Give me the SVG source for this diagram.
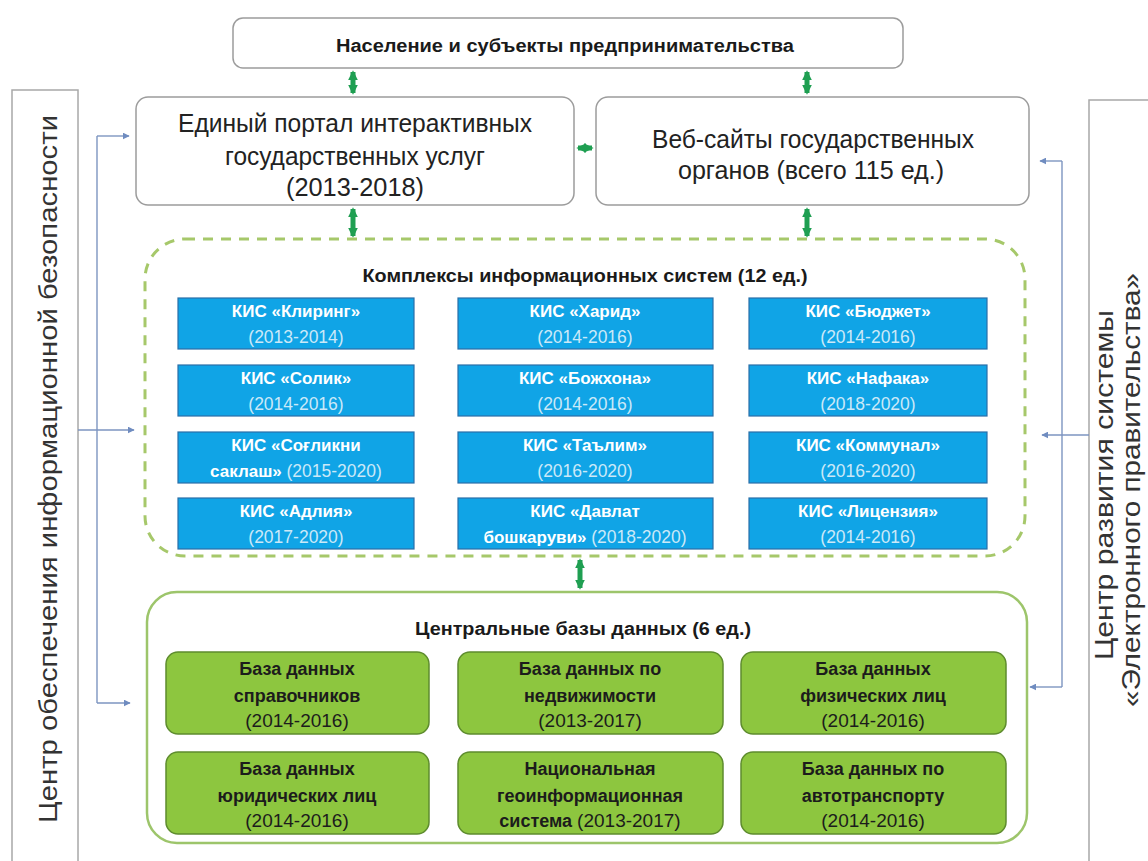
<svg xmlns="http://www.w3.org/2000/svg" width="1148" height="861" viewBox="0 0 1148 861">
<defs>
<style>
.box{fill:#fff;stroke:#9c9c9c;stroke-width:1.5}
.side{fill:#fff;stroke:#a8a8a8;stroke-width:1.5}
.kis{fill:#10A4E6;stroke:#2A6FA8;stroke-width:1.2}
.db{fill:#8DC63F;stroke:#5E8C2E;stroke-width:1.5}
.t{font-family:"Liberation Sans",Arial,sans-serif;text-anchor:middle}
.big{font-size:26px;fill:#222}
.hdr{font-size:18px;font-weight:bold;fill:#1a1a1a}
.kw{font-size:17px;font-weight:bold;fill:#ffffff}
.ky{font-size:17.5px;fill:#CBE9F8;font-weight:normal}
.dw{font-size:18px;font-weight:bold;fill:#1c1c1c}
.dy{font-size:19px;fill:#1c1c1c;font-weight:normal}
.sidet{font-size:25px;fill:#333}
.g{stroke:#1F9F52;stroke-width:5;fill:none;marker-start:url(#gh);marker-end:url(#gh)}
.b{stroke:#7D95C0;stroke-width:1.4;fill:none}
.ba{marker-end:url(#bh)}
</style>
<marker id="gh" viewBox="0 0 6 6" refX="5" refY="3" markerWidth="2" markerHeight="2" orient="auto-start-reverse" markerUnits="strokeWidth">
<path d="M0,0 L6,3 L0,6 z" fill="#1F9F52"/>
</marker>
<marker id="bh" viewBox="0 0 10 10" refX="9" refY="5" markerWidth="7" markerHeight="7" orient="auto" markerUnits="userSpaceOnUse">
<path d="M0,0 L10,5 L0,10 z" fill="#6F8CC0"/>
</marker>
</defs>
<rect width="1148" height="861" fill="#ffffff"/>

<g id="left-center">
<rect class="side" x="12" y="90" width="66" height="790"/>
<text class="t sidet" transform="translate(57,469) rotate(-90)" textLength="708" lengthAdjust="spacingAndGlyphs">Центр  обеспечения  информационной  безопасности</text>
</g>

<g id="right-center">
<rect class="side" x="1089" y="100" width="90" height="790"/>
<text class="t sidet" transform="translate(1113,485) rotate(-90)" textLength="350" lengthAdjust="spacingAndGlyphs">Центр  развития  системы</text>
<text class="t sidet" transform="translate(1140,490) rotate(-90)" textLength="434" lengthAdjust="spacingAndGlyphs">«Электронного  правительства»</text>
</g>

<g id="connectors">
<path class="b" d="M97,136 V703"/>
<path class="b ba" d="M97,136 H129"/>
<path class="b ba" d="M78,430 H134"/>
<path class="b ba" d="M97,703 H130"/>
<path class="b" d="M1062,161 V687"/>
<path class="b ba" d="M1062,161 H1040"/>
<path class="b ba" d="M1089,435 H1042"/>
<path class="b ba" d="M1062,687 H1030"/>
<line class="g" x1="353" y1="72" x2="353" y2="93"/>
<line class="g" x1="807" y1="72" x2="807" y2="93"/>
<line class="g" x1="353" y1="209" x2="353" y2="236"/>
<line class="g" x1="807" y1="209" x2="807" y2="236"/>
<line class="g" x1="578" y1="148" x2="592" y2="148"/>
<line class="g" x1="580" y1="560" x2="580" y2="588"/>
</g>

<g id="population">
<rect class="box" x="233" y="18" width="670" height="50" rx="10"/>
<text class="t hdr" x="565" y="52" textLength="458" lengthAdjust="spacingAndGlyphs">Население и субъекты предпринимательства</text>
</g>

<g id="portal">
<rect class="box" x="136" y="97" width="438" height="108" rx="12"/>
<text class="t big" x="355" y="132" textLength="354" lengthAdjust="spacingAndGlyphs">Единый  портал  интерактивных</text>
<text class="t big" x="355" y="165" textLength="260" lengthAdjust="spacingAndGlyphs">государственных  услуг</text>
<text class="t big" x="355" y="196" textLength="138" lengthAdjust="spacingAndGlyphs">(2013-2018)</text>
</g>

<g id="websites">
<rect class="box" x="596" y="97" width="433" height="108" rx="12"/>
<text class="t big" x="813" y="148" textLength="322" lengthAdjust="spacingAndGlyphs">Веб-сайты  государственных</text>
<text class="t big" x="811" y="179" textLength="266" lengthAdjust="spacingAndGlyphs">органов  (всего 115 ед.)</text>
</g>

<g id="kis-complex">
<rect x="145" y="239" width="880" height="317" rx="40" fill="#fff" stroke="#A6C86A" stroke-width="3" stroke-dasharray="10 8"/>
<text class="t hdr" x="585" y="282" textLength="445" lengthAdjust="spacingAndGlyphs">Комплексы информационных систем (12 ед.)</text>
</g>

<g id="kis-clearing"><rect class="kis" x="178" y="298" width="236" height="51"/>
<text class="t kw" x="296" y="317">КИС «Клиринг»</text><text class="t ky" x="296" y="343">(2013-2014)</text></g>
<g id="kis-harid"><rect class="kis" x="458" y="298" width="255" height="51"/>
<text class="t kw" x="585" y="317">КИС «Харид»</text><text class="t ky" x="585" y="343">(2014-2016)</text></g>
<g id="kis-budget"><rect class="kis" x="749" y="298" width="238" height="51"/>
<text class="t kw" x="868" y="317">КИС «Бюджет»</text><text class="t ky" x="868" y="343">(2014-2016)</text></g>

<g id="kis-solik"><rect class="kis" x="178" y="365" width="236" height="51"/>
<text class="t kw" x="296" y="384">КИС «Солик»</text><text class="t ky" x="296" y="410">(2014-2016)</text></g>
<g id="kis-bozhkhona"><rect class="kis" x="458" y="365" width="255" height="51"/>
<text class="t kw" x="585" y="384">КИС «Божхона»</text><text class="t ky" x="585" y="410">(2014-2016)</text></g>
<g id="kis-nafaka"><rect class="kis" x="749" y="365" width="238" height="51"/>
<text class="t kw" x="868" y="384">КИС «Нафака»</text><text class="t ky" x="868" y="410">(2018-2020)</text></g>

<g id="kis-health"><rect class="kis" x="178" y="432" width="236" height="51"/>
<text class="t kw" x="296" y="451">КИС «Соғликни</text><text class="t kw" x="296" y="477">саклаш» <tspan class="ky">(2015-2020)</tspan></text></g>
<g id="kis-talim"><rect class="kis" x="458" y="432" width="255" height="51"/>
<text class="t kw" x="585" y="451">КИС «Таълим»</text><text class="t ky" x="585" y="477">(2016-2020)</text></g>
<g id="kis-kommunal"><rect class="kis" x="749" y="432" width="238" height="51"/>
<text class="t kw" x="868" y="451">КИС «Коммунал»</text><text class="t ky" x="868" y="477">(2016-2020)</text></g>

<g id="kis-adliya"><rect class="kis" x="178" y="498" width="236" height="51"/>
<text class="t kw" x="296" y="517">КИС «Адлия»</text><text class="t ky" x="296" y="543">(2017-2020)</text></g>
<g id="kis-davlat"><rect class="kis" x="458" y="498" width="255" height="51"/>
<text class="t kw" x="585" y="517">КИС «Давлат</text><text class="t kw" x="585" y="543">бошкаруви» <tspan class="ky">(2018-2020)</tspan></text></g>
<g id="kis-license"><rect class="kis" x="749" y="498" width="238" height="51"/>
<text class="t kw" x="868" y="517">КИС «Лицензия»</text><text class="t ky" x="868" y="543">(2014-2016)</text></g>

<g id="central-db">
<rect x="147" y="592" width="880" height="251" rx="30" fill="#fff" stroke="#9DC56B" stroke-width="2.5"/>
<text class="t hdr" x="583" y="635" textLength="336" lengthAdjust="spacingAndGlyphs">Центральные базы данных (6 ед.)</text>
</g>

<g id="db-reference"><rect class="db" x="166" y="652" width="263" height="82" rx="12"/>
<text class="t dw" x="297" y="675">База данных</text><text class="t dw" x="297" y="702">справочников</text><text class="t dy" x="297" y="727">(2014-2016)</text></g>
<g id="db-realty"><rect class="db" x="458" y="652" width="265" height="82" rx="12"/>
<text class="t dw" x="590" y="675">База данных по</text><text class="t dw" x="590" y="702">недвижимости</text><text class="t dy" x="590" y="727">(2013-2017)</text></g>
<g id="db-individuals"><rect class="db" x="741" y="652" width="265" height="82" rx="12"/>
<text class="t dw" x="873" y="675">База данных</text><text class="t dw" x="873" y="702">физических лиц</text><text class="t dy" x="873" y="727">(2014-2016)</text></g>

<g id="db-legal"><rect class="db" x="166" y="752" width="263" height="82" rx="12"/>
<text class="t dw" x="297" y="775">База данных</text><text class="t dw" x="297" y="802">юридических лиц</text><text class="t dy" x="297" y="827">(2014-2016)</text></g>
<g id="db-geo"><rect class="db" x="458" y="752" width="265" height="82" rx="12"/>
<text class="t dw" x="590" y="775">Национальная</text><text class="t dw" x="590" y="802">геоинформационная</text><text class="t dw" x="590" y="827">система <tspan class="dy">(2013-2017)</tspan></text></g>
<g id="db-transport"><rect class="db" x="741" y="752" width="265" height="82" rx="12"/>
<text class="t dw" x="873" y="775">База данных по</text><text class="t dw" x="873" y="802">автотранспорту</text><text class="t dy" x="873" y="827">(2014-2016)</text></g>
</svg>
